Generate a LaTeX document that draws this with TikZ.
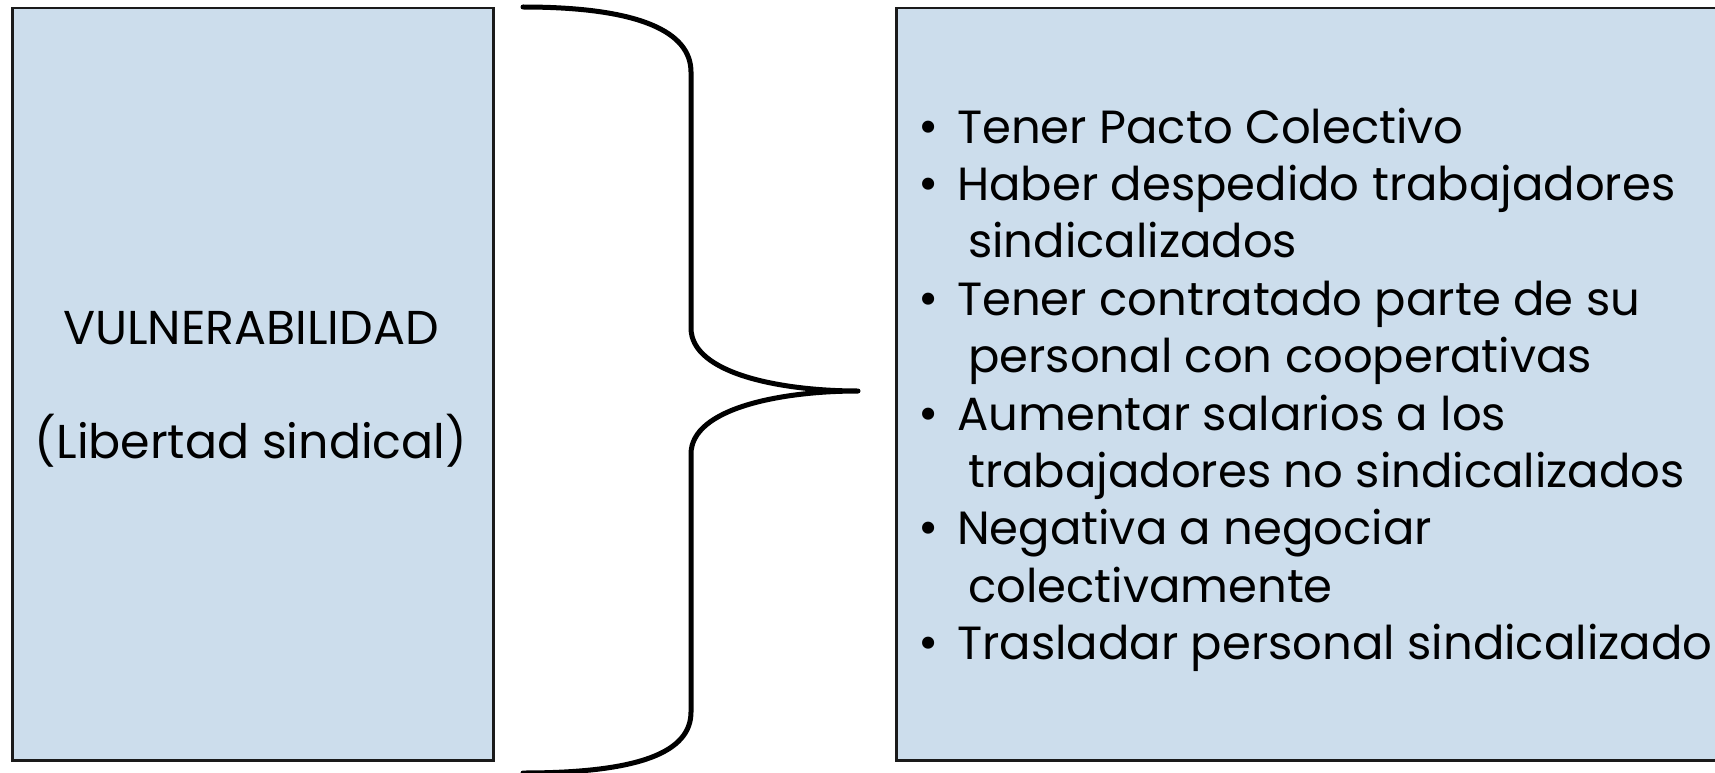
\documentclass[tikz,border=0pt]{standalone}
\usepackage{fontspec}
\setmainfont{Poppins}
\usepackage{tikz}
\usetikzlibrary{positioning}

\definecolor{panelblue}{HTML}{CCDDEC}
\definecolor{paneledge}{HTML}{1A1A1A}

\begin{document}
\begin{tikzpicture}[x=1pt,y=-1pt,
    panel/.style={draw=paneledge,line width=2.5pt,fill=panelblue,anchor=north west,inner sep=0pt},
    title/.style={anchor=base,inner sep=0pt,font=\fontsize{47.5}{55}\selectfont},
    item/.style={anchor=base west,inner sep=0pt,font=\fontsize{46.5}{57}\selectfont},
    dot/.style={anchor=base,inner sep=0pt,font=\fontsize{49}{57}\selectfont},
    bracket/.style={line width=5pt,line cap=round,line join=round}]
    \useasboundingbox (0,0) rectangle (1715,773);

    % left panel
    \node[panel,minimum width=481pt,minimum height=752pt] (vuln) at (11,7) {};
    \node[title] (vulnname) at (251,344) {VULNERABILIDAD};
    \node[title] (vulnsub) at (251,458) {(Libertad sindical)};

    % right panel
    \node[panel,minimum width=840pt,minimum height=752pt] (causes) at (895,7) {};

    % the brace
    \coordinate (btop) at (523,7);
    \coordinate (btip) at (858,391);
    \coordinate (bbot) at (523,773);
    \draw[bracket] (btop) .. controls (640,7) and (691,32) .. (691,72)
        -- (691,328) .. controls (691,374) and (782,391) .. (btip)
        .. controls (782,391) and (691,408) .. (691,454)
        -- (691,712) .. controls (691,752) and (640,773) .. (bbot);

    % bullets
    \node[dot] (dot1) at (929,143) {•};
    \node[dot] (dot2) at (929,200.4) {•};
    \node[dot] (dot3) at (929,315.2) {•};
    \node[dot] (dot4) at (929,430) {•};
    \node[dot] (dot5) at (929,544.8) {•};
    \node[dot] (dot6) at (929,659.6) {•};

    % items
    \node[item] (pacto) at (957,143) {Tener Pacto Colectivo};
    \node[item] (despido) at (957,200.4) {Haber despedido trabajadores};
    \node[item] (despido2) at (968,257.8) {sindicalizados};
    \node[item] (contrato) at (957,315.2) {Tener contratado parte de su};
    \node[item] (contrato2) at (968,372.6) {personal con cooperativas};
    \node[item] (salario) at (957,430) {Aumentar salarios a los};
    \node[item] (salario2) at (968,487.4) {trabajadores no sindicalizados};
    \node[item] (negativa) at (957,544.8) {Negativa a negociar};
    \node[item] (negativa2) at (968,602.2) {colectivamente};
    \node[item] (traslado) at (957,659.6) {Trasladar personal sindicalizado};
\end{tikzpicture}
\end{document}
